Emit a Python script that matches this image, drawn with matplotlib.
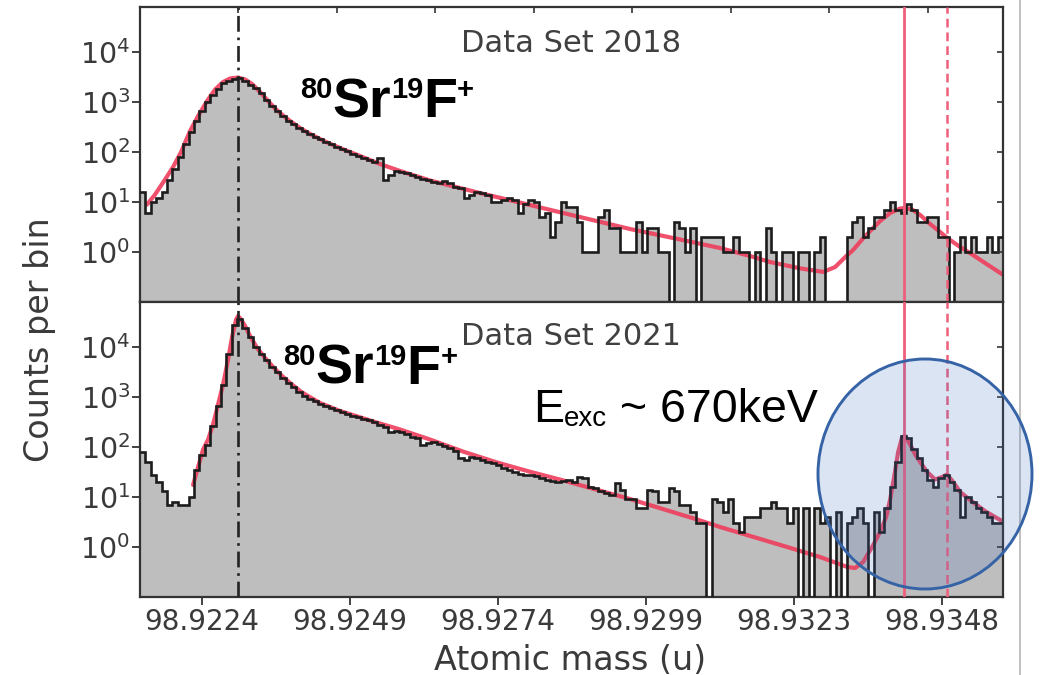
import numpy as np
import matplotlib
matplotlib.use("Agg")
import matplotlib.pyplot as plt
from matplotlib.patches import Ellipse
from matplotlib.lines import Line2D
from matplotlib.ticker import NullLocator, FixedLocator, FixedFormatter

# ---------------- data ----------------
mass_range = (98.92136, 98.93582)          # histogram / axis range (u)

counts_2018 = [
    16, 6, 10, 12, 16, 27, 45, 80, 145, 250,
    420, 660, 1010, 1370, 1850, 2400, 2600, 2880, 3000, 2630,
    2230, 1940, 1500, 1120, 830, 660, 530, 425, 355, 300,
    258, 225, 200, 180, 160, 145, 128, 115, 103, 93,
    83, 75, 68, 62, 75, 28, 35, 42, 40, 38,
    35, 32, 29, 27, 25, 24, 26, 24, 20, 19,
    12, 14, 16, 15, 14, 10, 10, 11, 12, 11,
    6, 9, 11, 10, 5, 6, 2, 4, 10, 8,
    8, 4, 1, 1, 1, 5, 7, 3, 3, 1,
    1, 1, 4, 1, 3, 3, 1, 1, 0, 4,
    3, 1, 3, 0, 2, 2, 2, 2, 1, 1,
    2, 1, 1, 0, 1, 0, 3, 1, 0, 1,
    1, 0, 1, 1, 0, 1, 2, 0, 0, 0,
    0, 2, 4, 5, 2, 3, 5, 5, 7, 10,
    7, 6, 9, 7, 4, 4, 5, 5, 2, 2,
    0, 1, 2, 1, 2, 1, 1, 2, 1, 2,
]

counts_2021 = [
    80, 50, 28, 20, 13, 7, 8, 7, 7, 10,
    35, 70, 112, 260, 660, 1700, 7200, 27500, 37000, 24500,
    16200, 10200, 7400, 5400, 4000, 3100, 2400, 1900, 1550, 1260,
    1050, 910, 830, 740, 660, 600, 540, 490, 460, 425,
    390, 365, 340, 310, 280, 255, 200, 210, 195, 178,
    162, 148, 112, 123, 126, 115, 105, 95, 85, 60,
    55, 62, 60, 56, 51, 47, 43, 38, 34, 31,
    29, 27, 27, 26, 24, 22, 21, 20, 21, 22,
    20, 25, 24, 16, 15, 13, 12, 11, 19, 14,
    9, 9, 6, 6, 14, 13, 8, 8, 15, 13,
    7, 7, 5, 3, 3, 0, 9, 8, 5, 9,
    3, 2, 4, 4, 4, 6, 6, 8, 6, 6,
    3, 6, 0, 6, 0, 6, 3, 4, 0, 5,
    0, 3, 4, 6, 3, 0, 5, 2, 6, 16,
    50, 165, 150, 90, 60, 35, 22, 16, 24, 28,
    20, 14, 4, 10, 8, 6, 5, 4, 3, 3,
]

fit_2018_mass = [
    98.921478, 98.921612, 98.921780, 98.921914, 98.922048, 98.922199,
    98.922333, 98.922484, 98.922618, 98.922752, 98.922869, 98.923003,
    98.923121, 98.923238, 98.923372, 98.923506, 98.923623, 98.923757,
    98.923875, 98.924042, 98.924210, 98.924461, 98.924712, 98.925048,
    98.925383, 98.925718, 98.926221, 98.927058, 98.927896, 98.928734,
    98.929572, 98.930410, 98.931080, 98.931583, 98.931918, 98.932421,
    98.932806, 98.933007, 98.933175, 98.933309, 98.933460, 98.933594,
    98.933761, 98.933929, 98.934096, 98.934180, 98.934297, 98.934432,
    98.934599, 98.934767, 98.934884, 98.935102, 98.935269, 98.935521,
    98.935822,
]
fit_2018_counts = [
    8.9, 14.1, 28.2, 50, 100, 263,
    525, 1047, 1778, 2512, 2951, 3090,
    2818, 2291, 1585, 1047, 741, 537,
    417, 302, 229, 162, 120, 83,
    57.5, 41.7, 26.9, 15.1, 8.7, 5.0,
    2.88, 1.78, 1.20, 0.83, 0.63, 0.47,
    0.40, 0.50, 0.79, 1.10, 1.78, 2.63,
    4.17, 6.03, 7.41, 7.59, 7.08, 5.50,
    3.63, 2.51, 1.91, 1.26, 0.95, 0.60,
    0.35,
]

fit_2021_mass = [
    98.922249, 98.922333, 98.922417, 98.922501, 98.922584, 98.922668,
    98.922752, 98.922836, 98.922903, 98.922970, 98.923003, 98.923054,
    98.923121, 98.923204, 98.923322, 98.923456, 98.923590, 98.923741,
    98.923875, 98.924042, 98.924159, 98.924377, 98.924712, 98.925265,
    98.925718, 98.926221, 98.926774, 98.927343, 98.927896, 98.928449,
    98.929572, 98.930695, 98.931080, 98.932203, 98.932756, 98.933208,
    98.933342, 98.933476, 98.933627, 98.933761, 98.933862, 98.933929,
    98.933996, 98.934063, 98.934130, 98.934180, 98.934264, 98.934348,
    98.934432, 98.934549, 98.934683, 98.934800, 98.934884, 98.934985,
    98.935102, 98.935269, 98.935521, 98.935822,
]
fit_2021_counts = [
    17.4, 39.8, 89, 141, 282, 708,
    1778, 5623, 15849, 35481, 41687, 35481,
    26303, 16596, 9550, 6026, 3981, 2630,
    1905, 1318, 1072, 759, 525, 325,
    224, 141, 81, 49, 32, 21.5,
    9.1, 3.55, 2.51, 1.0, 0.63, 0.40,
    0.38, 0.50, 1.0, 2.0, 4.0, 8.9,
    25, 79, 158, 166, 112, 71,
    50, 31.6, 22.4, 25.1, 28.2, 20,
    12.6, 8.7, 5.2, 3.2,
]

ref_mass = 98.923003          # dash-dot reference line
ground_mass = 98.934163       # solid red line
isomer_mass = 98.934884       # dashed red line

tick_values = [98.92240, 98.92488, 98.92736, 98.92984, 98.93232, 98.93480]
tick_labels = ["98.9224", "98.9249", "98.9274", "98.9299", "98.9323", "98.9348"]
top_tick_values = [98.923003, 98.924654, 98.926304, 98.927955,
                   98.929605, 98.931256, 98.932906, 98.934557]
ytick_values = [1, 10, 100, 1000, 10000]
ylim = (10 ** -1, 10 ** 4.9)

# ---------------- figure ----------------
W, H = 1043, 675
fig = plt.figure(figsize=(W / 100, H / 100), dpi=100)
fig.patch.set_facecolor("white")

ax1 = fig.add_axes([140 / W, 1 - 302 / H, 863 / W, 295 / H])
ax2 = fig.add_axes([140 / W, 1 - 597 / H, 863 / W, 295 / H])

SPINE = "#333333"
LABEL = "#3a3a3a"
FILL = "#bebebe"
FIT = "#ee3d5c"
VLINE = "#ef5f7b"


def draw_panel(ax, counts, fit_m, fit_c):
    counts = np.asarray(counts, dtype=float)
    edges = np.linspace(mass_range[0], mass_range[1], len(counts) + 1)
    vals = np.where(counts > 0, counts, 1e-3)
    ax.set_yscale("log")
    ax.stairs(vals, edges, baseline=1e-3, fill=True, color=FILL, zorder=1)
    ax.plot(fit_m, fit_c, color=FIT, lw=3.0, alpha=0.9, zorder=2,
            solid_capstyle="round")
    ax.stairs(vals, edges, baseline=None, color="#1c1c1c", lw=1.9, zorder=3)
    ax.axvline(ref_mass, color="#222222", lw=1.9,
               dashes=(6, 2.2, 1.0, 2.2), zorder=4)
    ax.axvline(ground_mass, color=VLINE, lw=2.0, zorder=4)
    ax.axvline(isomer_mass, color=VLINE, lw=1.8, dashes=(3.5, 2.0), zorder=4)

    ax.set_xlim(*mass_range)
    ax.set_ylim(*ylim)
    ax.yaxis.set_major_locator(FixedLocator(ytick_values))
    ax.yaxis.set_minor_locator(NullLocator())
    ax.tick_params(axis="y", which="major", direction="out", length=6,
                   width=1.3, color=SPINE, labelsize=20.5, labelcolor=LABEL,
                   pad=1)
    for sp in ax.spines.values():
        sp.set_color(SPINE)
        sp.set_linewidth(1.6)

    # inward ticks on the right edge
    axr = ax.twinx()
    axr.set_yscale("log")
    axr.set_ylim(*ylim)
    axr.yaxis.set_major_locator(FixedLocator(ytick_values))
    axr.yaxis.set_minor_locator(NullLocator())
    axr.tick_params(axis="y", direction="in", length=4, width=1.2,
                    color=SPINE, labelright=False)
    for sp in axr.spines.values():
        sp.set_visible(False)
    return axr


draw_panel(ax1, counts_2018, fit_2018_mass, fit_2018_counts)
draw_panel(ax2, counts_2021, fit_2021_mass, fit_2021_counts)

# top panel: no bottom ticks, inward ticks along the top edge
ax1.tick_params(axis="x", which="both", bottom=False, labelbottom=False)
ax1.xaxis.set_minor_locator(NullLocator())
axt = ax1.twiny()
axt.set_xlim(*mass_range)
axt.xaxis.set_major_locator(FixedLocator(top_tick_values))
axt.xaxis.set_minor_locator(NullLocator())
axt.tick_params(axis="x", direction="in", length=4, width=1.2,
                color=SPINE, labeltop=False)
for sp in axt.spines.values():
    sp.set_visible(False)

# bottom panel: labelled mass axis
ax2.xaxis.set_major_locator(FixedLocator(tick_values))
ax2.xaxis.set_major_formatter(FixedFormatter(tick_labels))
ax2.xaxis.set_minor_locator(NullLocator())
ax2.tick_params(axis="x", direction="out", length=6, width=1.3,
                color=SPINE, labelsize=20, labelcolor=LABEL, pad=2)

# axis titles
fig.text(570 / W, 1 - 670 / H, "Atomic mass (u)", ha="center",
         va="baseline", fontsize=24, color=LABEL)
fig.text(40 / W, 1 - 340 / H, "Counts per bin", ha="center", va="center",
         rotation=90, fontsize=24, color=LABEL)

# data set captions
fig.text(571 / W, 1 - 52 / H, "Data Set 2018", ha="center", va="baseline",
         fontsize=22, color="#404040")
fig.text(571 / W, 1 - 345 / H, "Data Set 2021", ha="center", va="baseline",
         fontsize=22, color="#404040")

renderer = fig.canvas.get_renderer()


def text_run(x_px, base_px, pieces, **kw):
    """Lay out text pieces left to right; each piece is (text, size, rise_px)."""
    x = x_px
    for s, size, rise in pieces:
        t = fig.text(x / W, 1 - (base_px - rise) / H, s, fontsize=size,
                     ha="left", va="baseline", zorder=6, **kw)
        x = t.get_window_extent(renderer).x1


formula = [("80", 21, 19), ("Sr", 40, 0), ("19", 21, 19), ("F", 40, 0),
           ("+", 21, 19)]
text_run(300, 117, formula, family="Liberation Sans", weight="bold",
         color="black")
text_run(283, 384, formula, family="Liberation Sans", weight="bold",
         color="black")
text_run(533, 422, [("E", 33.5, 0), ("exc", 20, -4), (" ~ 670keV", 33.5, 0)],
         family="Liberation Sans", color="black")

# highlighted region around the excited state
fig.add_artist(Ellipse((925 / W, 1 - 474 / H), 214 / W, 230 / H,
                       transform=fig.transFigure,
                       facecolor=(0.267, 0.447, 0.769, 0.19),
                       edgecolor="#3563a6", lw=2.1, zorder=5))

# page edge line on the right
fig.add_artist(Line2D([1020 / W, 1020 / W], [0, 1], transform=fig.transFigure,
                      color="#b5b5b5", lw=1.2))

fig.savefig("out.png", dpi=100)
